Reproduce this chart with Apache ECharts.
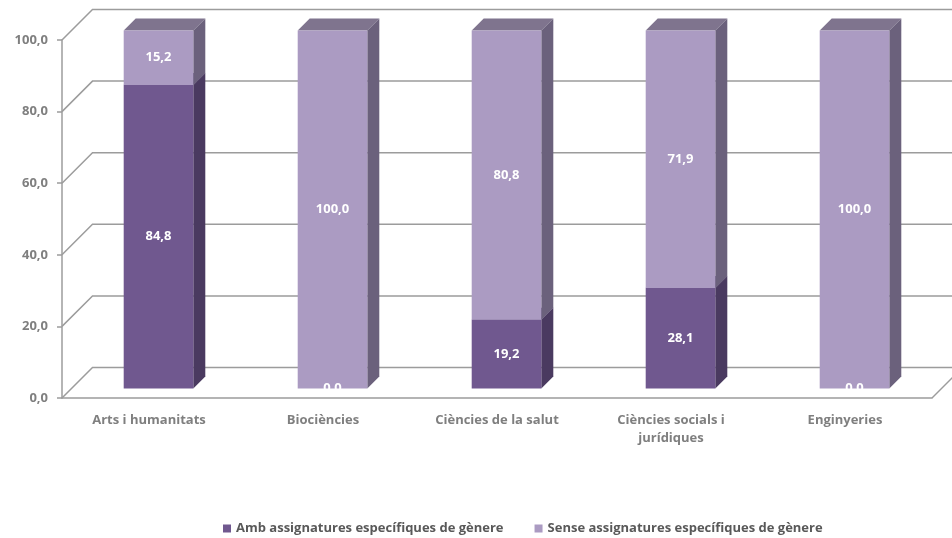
<!DOCTYPE html>
<html>
<head>
<meta charset="utf-8">
<script src="https://cdn.jsdelivr.net/npm/echarts@6/dist/echarts.min.js"></script>
<style>
  html, body { margin: 0; padding: 0; background: #ffffff; }
  #chart { width: 952px; height: 538px; }
</style>
</head>
<body>
<div id="chart"></div>
<script>
// Data
const categories = ['Arts i humanitats', 'Biociències', 'Ciències de la salut', 'Ciències socials i\njurídiques', 'Enginyeries'];
const ambValues = [84.8, 0.0, 19.2, 28.1, 0.0];
const senseValues = [15.2, 100.0, 80.8, 71.9, 100.0];
const yTicks = [0, 20, 40, 60, 80, 100];
const seriesNames = ['Amb assignatures específiques de gènere', 'Sense assignatures específiques de gènere'];

// Pseudo-3D geometry (pixels)
const D_FRONT = 9.5;   // shift of the bar's front face behind the axis plane
const D_BAR = 12;      // bar depth
const D_WALL = 30.5;   // depth of the back wall
const BAR_RATIO = 0.40;
const FONT = '"Open Sans", "DejaVu Sans", sans-serif';

const palette = {
  amb:   { front: '#70588f', side: '#4a3a60', top: '#5e4a78' },
  sense: { front: '#ab9bc2', side: '#6b617c', top: '#7f748e' }
};

const fmt = v => v.toFixed(1).replace('.', ',');

const ambData = categories.map((c, i) => [i, 0, ambValues[i], ambValues[i]]);
const senseData = categories.map((c, i) => [i, ambValues[i], ambValues[i] + senseValues[i], senseValues[i]]);

function makeBarRenderer(col) {
  return function (params, api) {
    const cat = api.value(0);
    const v0 = api.value(1), v1 = api.value(2), label = api.value(3);
    const p0 = api.coord([cat, v0]);
    const p1 = api.coord([cat, v1]);
    const hw = api.size([1, 0])[0] * BAR_RATIO / 2;
    const xl = p0[0] - hw + D_FRONT, xr = p0[0] + hw + D_FRONT;
    const yb = p0[1] - D_FRONT, yt = p1[1] - D_FRONT;
    const d = D_BAR;
    const children = [];
    if (yb - yt > 0.01) {
      children.push({
        type: 'polygon',
        shape: { points: [[xr, yt], [xr + d, yt - d], [xr + d, yb - d], [xr, yb]] },
        style: { fill: col.side }
      });
      children.push({
        type: 'polygon',
        shape: { points: [[xl, yt], [xl + d, yt - d], [xr + d, yt - d], [xr, yt]] },
        style: { fill: col.top }
      });
      children.push({
        type: 'rect',
        shape: { x: xl, y: yt, width: xr - xl, height: yb - yt },
        style: { fill: col.front }
      });
    }
    children.push({
      type: 'text',
      z2: 100,
      x: (xl + xr) / 2,
      y: (yt + yb) / 2,
      style: {
        text: fmt(label),
        fill: '#ffffff',
        font: 'bold 13px ' + FONT,
        align: 'center',
        verticalAlign: 'middle'
      }
    });
    return { type: 'group', children: children };
  };
}

function renderWalls(params, api) {
  const v = api.value(0);
  const cs = params.coordSys;
  const y = api.coord([0, v])[1];
  const left = cs.x, right = cs.x + cs.width;
  const w = D_WALL;
  const lineStyle = { stroke: '#9c9c9c', lineWidth: 1.5, fill: null };
  const children = [{
    type: 'polyline',
    shape: { points: [[left, y], [left + w, y - w], [api.getWidth() + 5, y - w]] },
    style: lineStyle
  }];
  if (v === 0) {
    children.push({
      type: 'line',
      shape: { x1: right, y1: y, x2: right + w, y2: y - w },
      style: lineStyle
    });
  }
  return { type: 'group', children: children };
}

const chart = echarts.init(document.getElementById('chart'), null, { renderer: 'canvas' });
chart.setOption({
  animation: false,
  backgroundColor: '#ffffff',
  grid: { left: 62, right: 20, top: 40, bottom: 140 },
  legend: {
    data: seriesNames,
    top: 517,
    left: 218,
    icon: 'rect',
    itemWidth: 8,
    itemHeight: 8,
    itemGap: 31,
    textStyle: { color: '#595959', fontWeight: 'bold', fontSize: 13, fontFamily: FONT }
  },
  xAxis: {
    type: 'category',
    data: categories,
    axisLine: { lineStyle: { color: '#9c9c9c', width: 1.5 } },
    axisTick: { length: 6, lineStyle: { color: '#9c9c9c', width: 1.5 } },
    axisLabel: { color: '#7f7f7f', fontWeight: 'bold', fontSize: 13, fontFamily: FONT, margin: 13, lineHeight: 18, interval: 0 },
    splitLine: { show: false }
  },
  yAxis: {
    type: 'value',
    min: 0,
    max: 100,
    interval: 20,
    axisLine: { show: true, lineStyle: { color: '#9c9c9c', width: 1.5 } },
    axisTick: { show: true, length: 5, lineStyle: { color: '#9c9c9c', width: 1.5 } },
    axisLabel: { color: '#7f7f7f', fontWeight: 'bold', fontSize: 13, fontFamily: FONT, margin: 14, formatter: v => fmt(v) },
    splitLine: { show: false }
  },
  series: [
    {
      type: 'custom',
      name: 'walls',
      silent: true,
      z: 1,
      renderItem: renderWalls,
      data: yTicks.map(v => [v]),
      encode: { y: 0 }
    },
    {
      type: 'custom',
      name: seriesNames[0],
      itemStyle: { color: palette.amb.front },
      renderItem: makeBarRenderer(palette.amb),
      data: ambData,
      encode: { x: 0, y: [1, 2] }
    },
    {
      type: 'custom',
      name: seriesNames[1],
      itemStyle: { color: palette.sense.front },
      renderItem: makeBarRenderer(palette.sense),
      data: senseData,
      encode: { x: 0, y: [1, 2] }
    }
  ]
});
</script>
</body>
</html>
